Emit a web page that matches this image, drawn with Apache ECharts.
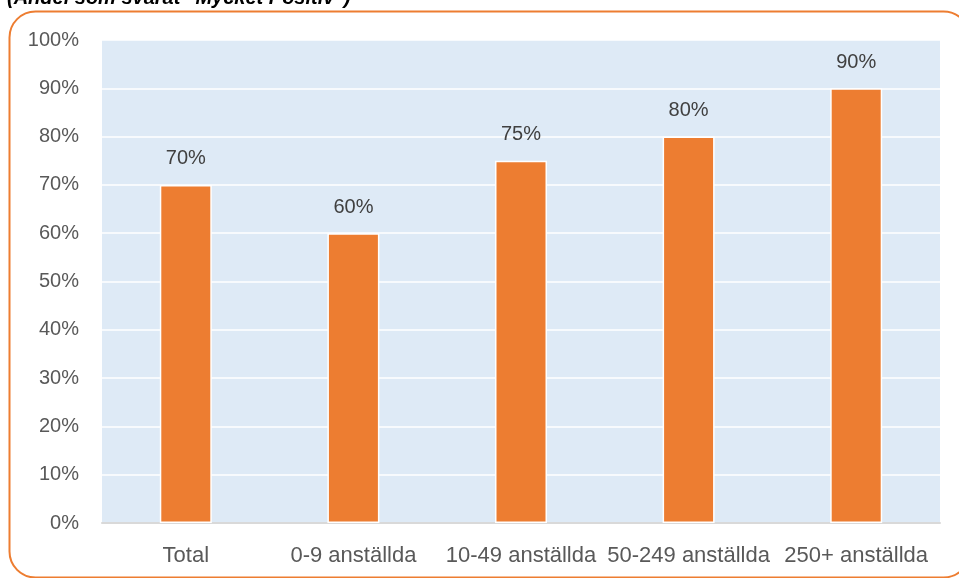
<!DOCTYPE html>
<html><head><meta charset="utf-8">
<script src="https://cdn.jsdelivr.net/npm/echarts@6/dist/echarts.min.js"></script>
<style>html,body{margin:0;padding:0;background:#fff}#c{width:959px;height:578px}</style>
</head><body><div id="c"></div>
<script>
const categories = ['Total', '0-9 anställda', '10-49 anställda', '50-249 anställda', '250+ anställda'];
const values = [70, 60, 75, 80, 90];
const titleText = '(Andel som svarat "Mycket Positiv")';
const chart = echarts.init(document.getElementById('c'));
const font = 'Liberation Sans';
chart.setOption({
  animation: false,
  backgroundColor: '#fff',
  textStyle: { fontFamily: font },
  graphic: [
    { type: 'rect', left: 7, top: 9, shape: { width: 960, height: 566, r: 26 },
      style: { fill: 'none', stroke: '#ED7D31', lineWidth: 2 }, z: 100 },
    { type: 'text', left: 7, top: -12,
      style: { text: titleText, fontFamily: font, fontSize: 20, fontWeight: 'bold', fontStyle: 'italic', fill: '#000' } }
  ],
  grid: { left: 102, right: 19, top: 40, bottom: 55, show: true, backgroundColor: '#DEEAF6', borderWidth: 0 },
  xAxis: {
    type: 'category', data: categories,
    axisLine: { lineStyle: { color: '#D9D9D9', width: 2 } },
    axisTick: { show: false },
    axisLabel: { color: '#595959', fontSize: 22, margin: 22, fontFamily: font, interval: 0 }
  },
  yAxis: {
    type: 'value', min: 0, max: 100, interval: 10,
    axisLine: { show: false }, axisTick: { show: false },
    axisLabel: { color: '#595959', fontSize: 20, margin: 23, fontFamily: font, formatter: '{value}%' },
    splitLine: { lineStyle: { color: '#FFFFFF', width: 1.5 } }
  },
  series: [{
    type: 'bar', data: values, barWidth: 52,
    itemStyle: { color: '#ED7D31', borderColor: '#FFFFFF', borderWidth: 1.5 },
    label: { show: true, position: 'top', distance: 16, color: '#404040', fontSize: 20, fontFamily: font, formatter: '{c}%' }
  }]
});
</script></body></html>
